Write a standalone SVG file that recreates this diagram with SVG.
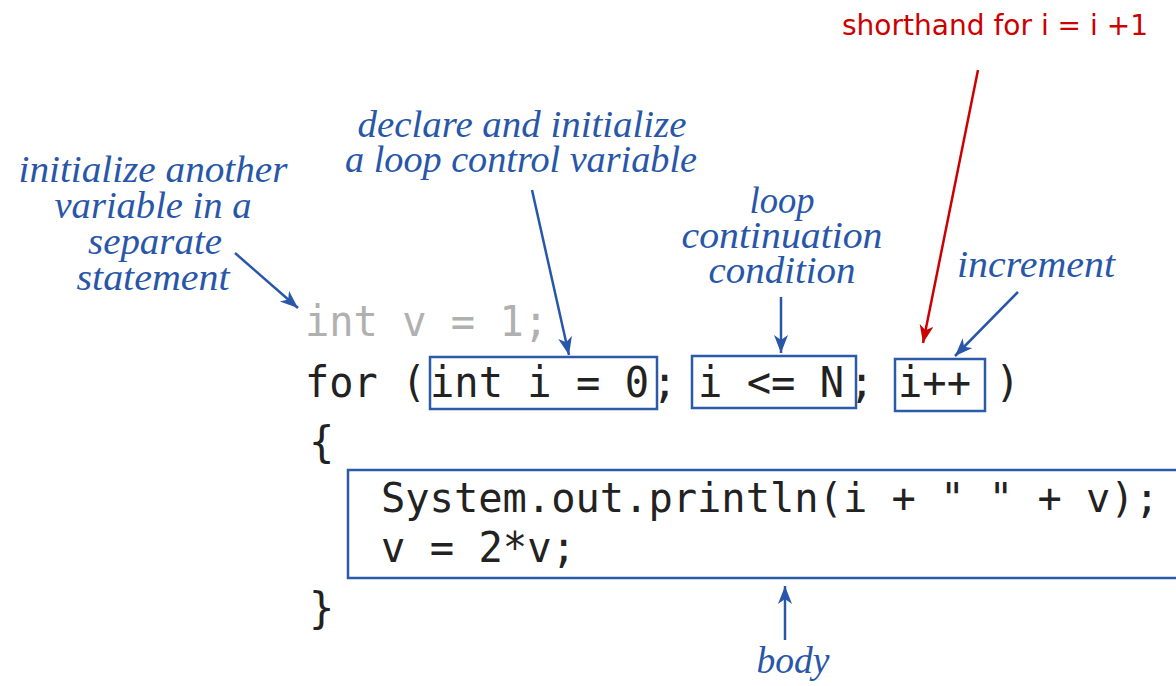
<svg xmlns="http://www.w3.org/2000/svg" width="1176" height="686" viewBox="0 0 1176 686">
  <style>
    .note { font-family: "Liberation Serif", "Times New Roman", serif; font-style: italic; font-size: 38px; fill: #2856a8; text-anchor: middle; }
    .red { font-family: "DejaVu Sans", "Liberation Sans", sans-serif; font-size: 29px; fill: #cc0000; }
    .code { font-family: "DejaVu Sans Mono", "Liberation Mono", monospace; font-size: 42px; fill: #222222; }
    .dim { fill: #b0b0b0; }
    .box { fill: none; stroke: #2b5ba8; stroke-width: 2.5; }
    .arrow { fill: none; stroke: #2856a8; stroke-width: 2.5; marker-end: url(#headBlue); }
    .arrow-red { fill: none; stroke: #cc0000; stroke-width: 2.5; marker-end: url(#headRed); }
  </style>
  <defs>
    <marker id="headBlue" markerUnits="userSpaceOnUse" markerWidth="20" markerHeight="16" refX="18" refY="7" orient="auto">
      <path d="M0,0 L18,7 L0,14 L5,7 z" fill="#2856a8"/>
    </marker>
    <marker id="headRed" markerUnits="userSpaceOnUse" markerWidth="20" markerHeight="16" refX="18" refY="7" orient="auto">
      <path d="M0,0 L18,7 L0,14 L5,7 z" fill="#cc0000"/>
    </marker>
  </defs>

  <rect width="1176" height="686" fill="#ffffff"/>

  <!-- code listing -->
  <g id="code">
    <text class="code dim" x="305" y="336" textLength="243" lengthAdjust="spacingAndGlyphs">int v = 1;</text>
    <text class="code" y="397"><tspan x="305" textLength="121" lengthAdjust="spacingAndGlyphs">for (</tspan><tspan x="430" textLength="219" lengthAdjust="spacingAndGlyphs">int i = 0</tspan><tspan x="652">;</tspan><tspan x="698" textLength="146" lengthAdjust="spacingAndGlyphs">i &lt;= N</tspan><tspan x="849">;</tspan><tspan x="898" textLength="73" lengthAdjust="spacingAndGlyphs">i++</tspan><tspan x="995">)</tspan></text>
    <text class="code" x="309" y="457">{</text>
    <text class="code" x="381" y="512" style="font-size:40.5px" textLength="778" lengthAdjust="spacingAndGlyphs">System.out.println(i + " " + v);</text>
    <text class="code" x="381" y="562" textLength="195" lengthAdjust="spacingAndGlyphs">v = 2*v;</text>
    <text class="code" x="309" y="623">}</text>
  </g>

  <!-- highlighted parts of the for statement -->
  <g id="init-box"><rect class="box" x="430" y="357" width="227" height="52"/></g>
  <g id="cond-box"><rect class="box" x="692" y="356" width="164" height="52"/></g>
  <g id="incr-box"><rect class="box" x="895" y="359" width="90" height="52"/></g>
  <g id="body-box"><rect class="box" x="348" y="470" width="850" height="108"/></g>

  <!-- annotations -->
  <g id="note-another">
    <text class="note"><tspan x="153" y="182" textLength="269" lengthAdjust="spacingAndGlyphs">initialize another</tspan><tspan x="153" y="218" textLength="197" lengthAdjust="spacingAndGlyphs">variable in a</tspan><tspan x="155" y="254" textLength="134" lengthAdjust="spacingAndGlyphs">separate</tspan><tspan x="153" y="290" textLength="153" lengthAdjust="spacingAndGlyphs">statement</tspan></text>
  </g>
  <g id="note-declare">
    <text class="note"><tspan x="522" y="137" textLength="329" lengthAdjust="spacingAndGlyphs">declare and initialize</tspan><tspan x="521" y="172" textLength="352" lengthAdjust="spacingAndGlyphs">a loop control variable</tspan></text>
  </g>
  <g id="note-condition">
    <text class="note"><tspan x="782" y="213" textLength="65" lengthAdjust="spacingAndGlyphs">loop</tspan><tspan x="782" y="248" textLength="201" lengthAdjust="spacingAndGlyphs">continuation</tspan><tspan x="782" y="283" textLength="147" lengthAdjust="spacingAndGlyphs">condition</tspan></text>
  </g>
  <g id="note-increment">
    <text class="note" x="1036" y="277" textLength="158" lengthAdjust="spacingAndGlyphs">increment</text>
  </g>
  <g id="note-body">
    <text class="note" x="793" y="673" textLength="73" lengthAdjust="spacingAndGlyphs">body</text>
  </g>
  <g id="note-shorthand">
    <text class="red" x="842" y="35" textLength="306" lengthAdjust="spacingAndGlyphs">shorthand for i = i +1</text>
  </g>

  <!-- connectors -->
  <g id="connectors">
    <line class="arrow" x1="235" y1="253" x2="298" y2="308"/>
    <line class="arrow" x1="532" y1="190" x2="569" y2="355"/>
    <line class="arrow" x1="781" y1="297" x2="781" y2="353"/>
    <line class="arrow" x1="1018" y1="292" x2="955" y2="356"/>
    <line class="arrow" x1="785" y1="640" x2="785" y2="586"/>
    <line class="arrow-red" x1="978" y1="70" x2="923" y2="343"/>
  </g>
</svg>
